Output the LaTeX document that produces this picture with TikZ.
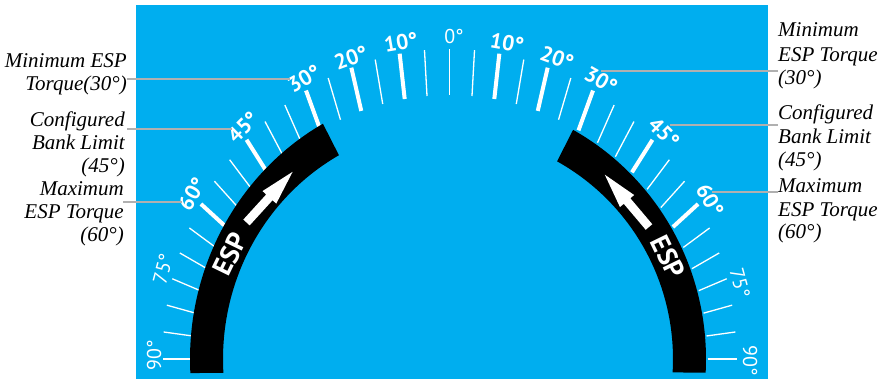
\documentclass[tikz,border=0pt]{standalone}
\usepackage{fontspec}
\setmainfont{Liberation Serif}
\newfontfamily\dialfont{PT Sans}
\definecolor{dialblue}{HTML}{00AEEF}
\definecolor{leadgray}{HTML}{B0B0B0}
\tikzset{
  thintick/.style={white, line width=1.3pt},
  thicktick/.style={white, line width=4pt},
  leader/.style={leadgray, line width=2.5pt},
  callout/.style={font=\fontsize{21}{23}\selectfont\itshape, inner sep=0pt, text=black},
  degb/.style={font=\dialfont\bfseries\fontsize{21.5}{23}\selectfont, text=white, inner sep=0pt},
  degr/.style={font=\dialfont\fontsize{20}{22}\selectfont, text=white, inner sep=0pt},
  esptext/.style={font=\dialfont\bfseries\fontsize{27}{29}\selectfont, text=white, inner sep=0pt},
  arrowfill/.style={white}
}
\begin{document}
\begin{tikzpicture}[x=1pt,y=-1pt]
\useasboundingbox (0,0) rectangle (881,379);
\fill[dialblue] (136,5) rectangle (768,379);

% ticks
\foreach \t in {0,5,15,25,35,40,50,55,65,70,75,80,85,90}{
  \draw[thintick] ({449.5-258*sin(\t)},{359-264*cos(\t)}) -- ({449.5-287*sin(\t)},{359-310*cos(\t)});
  \draw[thintick] ({449.5+258*sin(\t)},{359-264*cos(\t)}) -- ({449.5+287*sin(\t)},{359-310*cos(\t)});
}
\foreach \t in {10,20,30,45,60}{
  \draw[thicktick] ({449.5-258*sin(\t)},{359-264*cos(\t)}) -- ({449.5-287*sin(\t)},{359-310*cos(\t)});
  \draw[thicktick] ({449.5+258*sin(\t)},{359-264*cos(\t)}) -- ({449.5+287*sin(\t)},{359-310*cos(\t)});
}

% black bands
\fill[black] plot[domain=29:93,samples=60] ({448-258*sin(\x)},{359-269*cos(\x)})
  -- plot[domain=93.4:29,samples=60] ({448-225*sin(\x)},{359-233*cos(\x)}) -- cycle;
\fill[black] plot[domain=29:93,samples=60] ({448+258*sin(\x)},{359-262*cos(\x)})
  -- plot[domain=93.4:29,samples=60] ({448+225*sin(\x)},{359-226*cos(\x)}) -- cycle;

% arrows
\begin{scope}[shift={(246.5,222.5)}, rotate=47.7]
  \fill[arrowfill] (0,-4.3) -- (34,-4.3) -- (34,-9.3) -- (68.5,0) -- (34,9.3) -- (34,4.3) -- (0,4.3) -- cycle;
\end{scope}
\begin{scope}[shift={(649,227)}, rotate=130.2]
  \fill[arrowfill] (0,-4.3) -- (34,-4.3) -- (34,-9.3) -- (68.5,0) -- (34,9.3) -- (34,4.3) -- (0,4.3) -- cycle;
\end{scope}

% ESP text
\node[esptext, rotate=64] (espL) at (230,254) {ESP};
\node[esptext, rotate=-64] (espR) at (668,257) {ESP};

% degree labels
\node[degr] (d0) at (454,37) {0°};
\node[degb, rotate=10] (d10L) at (401,42) {10°};
\node[degb, rotate=20] (d20L) at (351,58) {20°};
\node[degb, rotate=30] (d30L) at (304,79) {30°};
\node[degb, rotate=45] (d45L) at (243,127) {45°};
\node[degb, rotate=60] (d60L) at (192,194) {60°};
\node[degr, rotate=75] (d75L) at (163,269) {75°};
\node[degr, rotate=90] (d90L) at (154,355) {90°};
\node[degb, rotate=-10] (d10R) at (507,43) {10°};
\node[degb, rotate=-20] (d20R) at (557,58) {20°};
\node[degb, rotate=-30] (d30R) at (601,80) {30°};
\node[degb, rotate=-45] (d45R) at (664,133) {45°};
\node[degb, rotate=-60] (d60R) at (710,200) {60°};
\node[degr, rotate=-75] (d75R) at (740,283) {75°};
\node[degr, rotate=-90] (d90R) at (750,361) {90°};

% left callouts
\node[callout, anchor=base east] (lA1) at (127,68) {Minimum ESP};
\node[callout, anchor=base east] (lA2) at (127,91) {Torque(30°)};
\node[callout, anchor=base east] (lB1) at (125,127) {Configured};
\node[callout, anchor=base east] (lB2) at (125,150) {Bank Limit};
\node[callout, anchor=base east] (lB3) at (125,173) {(45°)};
\node[callout, anchor=base east] (lC1) at (124,196) {Maximum};
\node[callout, anchor=base east] (lC2) at (124,219) {ESP Torque};
\node[callout, anchor=base east] (lC3) at (124,242) {(60°)};

% right callouts
\node[callout, anchor=base west] (rA1) at (778,37) {Minimum};
\node[callout, anchor=base west] (rA2) at (778,62) {ESP Torque};
\node[callout, anchor=base west] (rA3) at (778,85) {(30°)};
\node[callout, anchor=base west] (rB1) at (778,120) {Configured};
\node[callout, anchor=base west] (rB2) at (778,144) {Bank Limit};
\node[callout, anchor=base west] (rB3) at (778,167) {(45°)};
\node[callout, anchor=base west] (rC1) at (778,193) {Maximum};
\node[callout, anchor=base west] (rC2) at (778,217) {ESP Torque};
\node[callout, anchor=base west] (rC3) at (778,239) {(60°)};

% leader lines
\coordinate (lmA) at (127,79);  \coordinate (lmB) at (290,79);
\coordinate (lcA) at (127,129); \coordinate (lcB) at (232,129);
\coordinate (lxA) at (123,202); \coordinate (lxB) at (182,202);
\coordinate (rmA) at (778,71);  \coordinate (rmB) at (601,71);
\coordinate (rcA) at (778,125); \coordinate (rcB) at (670,125);
\coordinate (rxA) at (778,192); \coordinate (rxB) at (712,192);
\draw[leader] (lmA) -- (lmB);
\draw[leader] (lcA) -- (lcB);
\draw[leader] (lxA) -- (lxB);
\draw[leader] (rmA) -- (rmB);
\draw[leader] (rcA) -- (rcB);
\draw[leader] (rxA) -- (rxB);
\end{tikzpicture}
\end{document}
